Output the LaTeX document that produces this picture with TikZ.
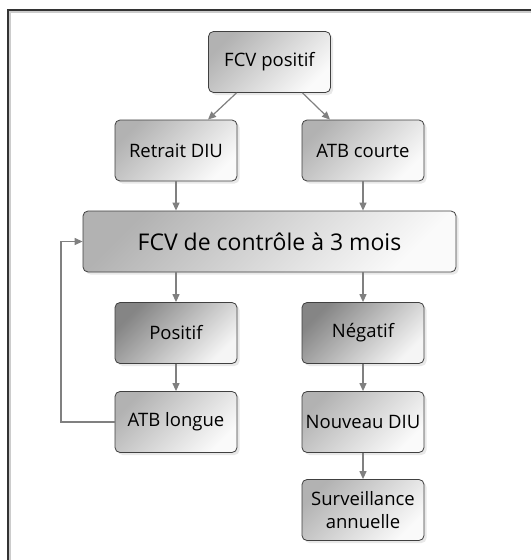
\documentclass[tikz,border=0pt]{standalone}
\usepackage{fontspec}
\setmainfont{Open Sans}
\usetikzlibrary{arrows.meta,shadows}
\begin{document}
\begin{tikzpicture}[x=1pt,y=-1pt,
  box/.style={draw=black!75, line width=0.8pt, rounded corners=5pt,
    minimum width=122pt, minimum height=61pt, align=center, inner sep=2pt,
    font=\fontsize{18.5}{23}\selectfont,
    top color=black!30, bottom color=black!2, shading angle=45,
    drop shadow={opacity=0.18, shadow xshift=2.5pt, shadow yshift=-2.5pt}},
  darkbox/.style={box, top color=black!48, bottom color=black!4, shading angle=45},
  bigbox/.style={box, minimum width=373pt, font=\fontsize{23}{27}\selectfont},
  arr/.style={draw=black!50, line width=1.2pt, -{Triangle[length=8pt,width=7pt]}}
]
\useasboundingbox (0,0) rectangle (531,560);
\fill[white] (0,0) rectangle (531,560);
% frame
\draw[black!20, line width=1.5pt] (10,560) -- (10,12) -- (531,12);
\draw[black!80, line width=1.5pt] (8,560) -- (8,10) -- (531,10);

\node[box] (pos0) at (269.5,62) {FCV positif};
\node[box] (ret) at (176,150.5) {Retrait DIU};
\node[box] (atbc) at (363,150.5) {ATB courte};
\node[bigbox] (ctrl) at (269.5,241.5) {FCV de contrôle à 3 mois};
\node[darkbox] (pos) at (176,333) {Positif};
\node[darkbox] (neg) at (363,333) {Négatif};
\node[box] (atbl) at (176,422) {ATB longue};
\node[box] (nouv) at (363,422) {Nouveau DIU};
\node[box] (surv) at (363,510) {Surveillance\\annuelle};

\coordinate (fb) at (61,0);

\draw[arr] ([xshift=-33pt]pos0.south) -- ([xshift=32pt]ret.north);
\draw[arr] ([xshift=33pt]pos0.south) -- ([xshift=-33pt]atbc.north);
\draw[arr] (ret.south) -- (ret.south |- ctrl.north);
\draw[arr] (atbc.south) -- (atbc.south |- ctrl.north);
\draw[arr] (ret.south |- ctrl.south) -- (pos.north);
\draw[arr] (atbc.south |- ctrl.south) -- (neg.north);
\draw[arr] (pos.south) -- (atbl.north);
\draw[arr] (neg.south) -- (nouv.north);
\draw[arr] (nouv.south) -- (surv.north);
\draw[arr] (atbl.west) -- (fb |- atbl.west) -- (fb |- ctrl.west) -- (ctrl.west);
\end{tikzpicture}
\end{document}
